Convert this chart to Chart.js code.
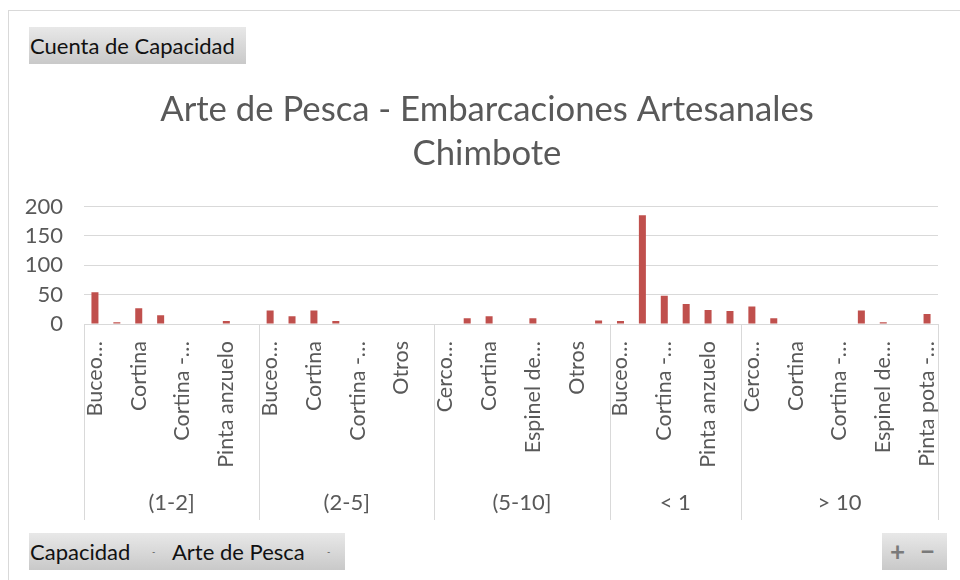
<!DOCTYPE html>
<html>
<head>
<meta charset="utf-8">
<script src="https://cdn.jsdelivr.net/npm/chart.js@4/dist/chart.umd.min.js"></script>
<style>
  body { margin: 0; background: #fff; overflow: hidden; font-family: Lato, sans-serif; }
  #wrap { position: absolute; left: 0; top: 0; width: 974px; height: 580px; }
  #frame { position: absolute; left: 8px; top: 10px; width: 980px; height: 600px;
           border-left: 1px solid #d9d9d9; border-top: 1px solid #d9d9d9; }
  .btn { position: absolute; background: linear-gradient(#e8e8e8, #c9c9c9);
         color: #111; font-size: 22px; line-height: 37px; height: 37px; white-space: nowrap; }
  .btn span { position: absolute; top: 0; }
  .arrow { font-size: 9px; color: #555; }
</style>
</head>
<body>
<div id="frame"></div>
<div id="wrap"><canvas id="chart" width="974" height="580"></canvas></div>
<div class="btn" style="left:29px; top:27px; width:217px;"><span style="left:1px">Cuenta de Capacidad</span></div>
<div class="btn" style="left:29px; top:533px; width:316px;">
  <span style="left:1px">Capacidad</span><span class="arrow" style="left:123px">-</span>
  <span style="left:143px">Arte de Pesca</span><span class="arrow" style="left:298px">-</span>
</div>
<div class="btn" style="left:882px; top:533px; width:65px; color:#7a7a7a; font-weight:bold; font-size:26px;">
  <span style="left:8px">+</span><span style="left:38px">&minus;</span>
</div>
<script>
// Capacidad groups (outer category level) and how many artes each one holds
const groups = ['(1-2]', '(2-5]', '(5-10]', '< 1', '> 10'];
const groupSizes = [8, 8, 8, 6, 9];

// Arte de Pesca (inner level), in chart order
const arteLabels = [
    'Buceo…', 'Cerco…', 'Cortina', 'Cortina -…', 'Cortina -…', 'Espinel de…', 'Pinta anzuelo', 'Pinta pota -…',
    'Buceo…', 'Cerco…', 'Cortina', 'Cortina -…', 'Cortina -…', 'Espinel de…', 'Otros', 'Pinta anzuelo',
    'Cerco…', 'Cerco…', 'Cortina', 'Cortina -…', 'Espinel de…', 'Espinel de…', 'Otros', 'Pinta anzuelo',
    'Buceo…', 'Cortina', 'Cortina -…', 'Otros', 'Pinta anzuelo', 'Pinta pota -…',
    'Cerco…', 'Cerco…', 'Cortina', 'Cortina -…', 'Cortina -…', 'Cortina -…', 'Espinel de…', 'Otros', 'Pinta pota -…'
];

// Cuenta de Capacidad
const counts = [
    54, 3, 27, 15, 0, 0, 5, 0,
    23, 13, 23, 5, 0, 0, 0, 1,
    0, 10, 13, 0, 10, 1, 0, 6,
    5, 185, 48, 34, 24, 22,
    30, 10, 1, 0, 0, 23, 3, 1, 17
];

const yTicks = [0, 50, 100, 150, 200];

// group centres and borders on the category index scale
const groupCenters = [];
const groupEdges = [-0.5];
let start = 0;
groupSizes.forEach(n => {
    groupCenters.push(start + (n - 1) / 2);
    start += n;
    groupEdges.push(start - 0.5);
});

const GRID = '#d9d9d9';
const TEXT = '#595959';
const FONT = { family: 'Lato', size: 22 };

// vertical separators between the capacity groups, below the axis
const groupLines = {
    id: 'groupLines',
    afterDraw(chart) {
        const sx = chart.scales.x2;
        const ctx = chart.ctx;
        ctx.save();
        ctx.strokeStyle = GRID;
        ctx.lineWidth = 1;
        groupEdges.forEach(v => {
            const px = Math.round(sx.getPixelForValue(v)) + 0.5;
            ctx.beginPath();
            ctx.moveTo(px, chart.chartArea.bottom);
            ctx.lineTo(px, sx.bottom);
            ctx.stroke();
        });
        ctx.restore();
    }
};

new Chart(document.getElementById('chart'), {
    type: 'bar',
    data: {
        labels: arteLabels,
        datasets: [{
            label: 'Total',
            data: counts,
            backgroundColor: '#c0504d',
            categoryPercentage: 1,
            barPercentage: 0.32
        }]
    },
    options: {
        responsive: false,
        animation: false,
        layout: { padding: { left: 18, right: 18, top: 0, bottom: 60 } },
        plugins: {
            legend: { display: false },
            tooltip: { enabled: false },
            title: {
                display: true,
                text: ['Arte de Pesca - Embarcaciones Artesanales', 'Chimbote'],
                color: TEXT,
                font: { family: 'Lato', size: 34.7, weight: 'normal', lineHeight: 1.29 },
                padding: { top: 87, bottom: 30 }
            }
        },
        scales: {
            y: {
                min: 0,
                max: 200,
                afterBuildTicks: s => { s.ticks = yTicks.map(v => ({ value: v })); },
                afterFit: s => { s.width = 66; },
                grid: { color: GRID, drawTicks: false },
                border: { display: false },
                ticks: { color: TEXT, font: FONT, padding: 21, autoSkip: false }
            },
            // empty right margin so the title stays centred on the whole chart box
            yRight: {
                position: 'right',
                afterFit: s => { s.width = 18; },
                grid: { display: false },
                border: { display: false },
                ticks: { display: false }
            },
            x: {
                afterFit: s => { s.height = 148; },
                grid: { display: false },
                border: { display: true, color: GRID },
                ticks: {
                    color: TEXT,
                    font: { family: 'Lato', size: 21.5 },
                    autoSkip: false,
                    minRotation: 90,
                    maxRotation: 90,
                    padding: 9,
                    callback: (v, i) => (i % 2 === 0 ? arteLabels[i] : '')
                }
            },
            x2: {
                type: 'linear',
                position: 'bottom',
                offset: false,
                min: -0.5,
                max: arteLabels.length - 0.5,
                afterBuildTicks: s => { s.ticks = groupCenters.map(v => ({ value: v })); },
                afterFit: s => { s.height = 48; },
                grid: { display: false, drawTicks: false, offset: false },
                border: { display: false },
                ticks: {
                    color: TEXT,
                    font: FONT,
                    autoSkip: false,
                    maxRotation: 0,
                    padding: 18,
                    callback: (v, i) => groups[i]
                }
            }
        }
    },
    plugins: [groupLines]
});
</script>
</body>
</html>
